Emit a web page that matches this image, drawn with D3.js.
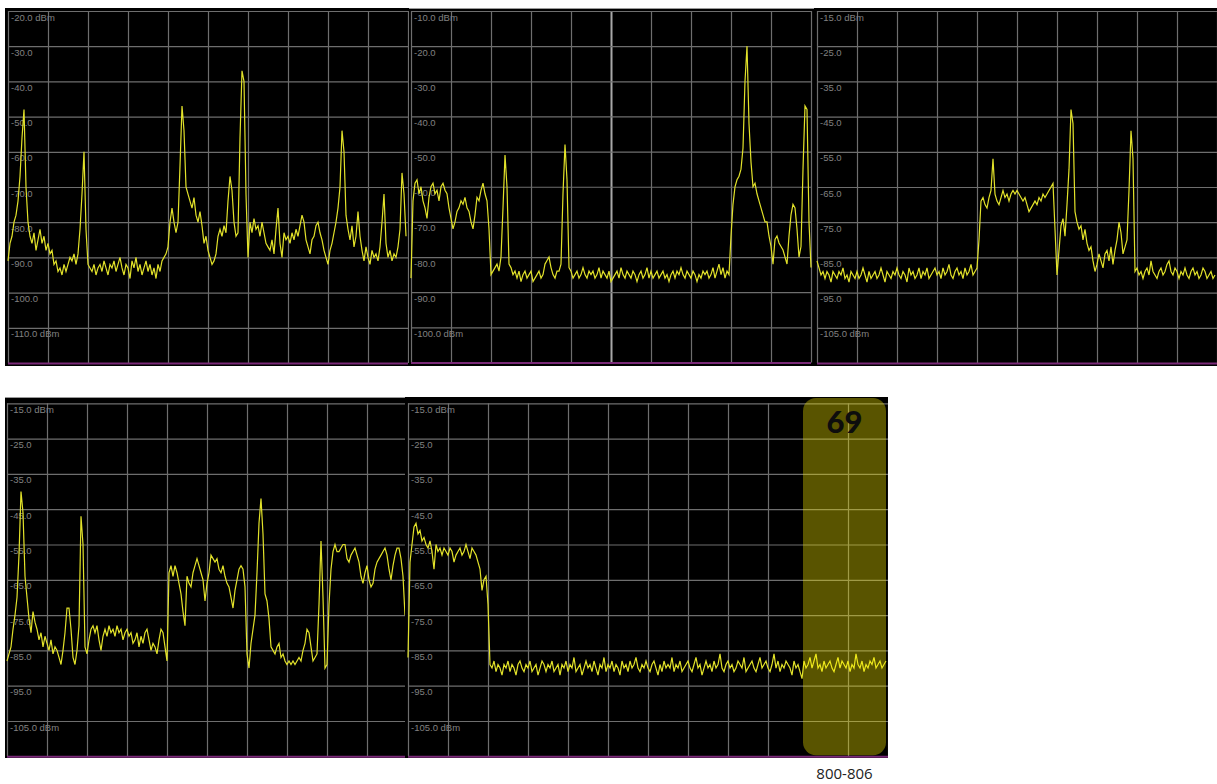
<!DOCTYPE html>
<html>
<head>
<meta charset="utf-8">
<script src="https://cdn.jsdelivr.net/npm/d3@7"></script>
<style>
    body { margin: 0; background: #fff; }
    .grid line { stroke: #6e6e6e; stroke-width: 1.2; }
    .grid path { display: none; }
    .grid text { fill: #808080; font-family: "Liberation Sans Narrow", "Liberation Sans", sans-serif; font-size: 9.5px; }
    .trace { fill: none; stroke: #e2e22a; stroke-width: 1.2; }
</style>
</head>
<body>
<svg></svg>
<script>
// reference level (top line) of each screen, dBm, 10 dB per division
var topLevels = [-20, -10, -15, -15, -15];

// traces, dBm, one sample every 2 px
var p1Trace = [
    -91, -86, -84, -80, -78, -74, -67, -56, -48, -70,
    -80, -84, -86, -83, -88, -85, -82, -86, -84, -88,
    -86, -89, -88, -92, -91, -94, -93, -95, -92, -94,
    -92, -90, -91, -89, -92, -89, -82, -72, -60, -82,
    -92, -93, -94, -92, -95, -93, -92, -94, -91, -93,
    -95, -92, -93, -91, -94, -92, -90, -93, -95, -92,
    -93, -96, -91, -93, -90, -94, -92, -95, -93, -91,
    -94, -92, -95, -93, -96, -92, -94, -91, -90, -89,
    -87, -80, -76, -80, -83, -80, -64, -47, -54, -70,
    -72, -74, -76, -73, -78, -80, -77, -81, -86, -84,
    -88, -90, -92, -91, -89, -84, -82, -84, -81, -83,
    -74, -67, -71, -80, -84, -83, -56, -37, -40, -72,
    -90, -80, -83, -79, -82, -81, -84, -80, -83, -86,
    -87, -88, -85, -89, -82, -76, -86, -90, -83, -85,
    -84, -86, -83, -85, -82, -84, -81, -78, -80, -85,
    -87, -89, -85, -84, -81, -80, -83, -85, -88, -90,
    -92, -88, -86, -83, -80, -76, -70, -54, -60, -78,
    -82, -85, -81, -87, -84, -77, -84, -88, -91, -87,
    -90, -92, -88, -90, -89, -91, -87, -80, -72, -86,
    -90, -88, -91, -89, -90, -87, -82, -66, -72, -84
];

var p2Trace = [
    -86, -64, -59, -58, -62, -60, -64, -66, -69, -63,
    -60, -59, -62, -61, -64, -60, -59, -61, -62, -66,
    -69, -72, -70, -67, -66, -64, -65, -63, -66, -67,
    -70, -72, -68, -63, -64, -61, -59, -62, -64, -72,
    -85, -84, -83, -82, -84, -80, -66, -51, -60, -82,
    -83, -85, -84, -86, -84, -87, -85, -84, -86, -85,
    -84, -87, -86, -85, -84, -86, -85, -82, -81, -80,
    -83, -85, -86, -84, -84, -82, -62, -48, -58, -83,
    -84, -86, -85, -84, -86, -85, -83, -85, -86, -84,
    -85, -84, -86, -85, -83, -86, -84, -85, -86, -84,
    -87, -86, -85, -84, -86, -83, -85, -86, -84, -85,
    -86, -84, -85, -87, -85, -84, -86, -85, -83, -86,
    -84, -86, -85, -84, -86, -85, -84, -86, -85, -87,
    -85, -84, -86, -84, -85, -83, -85, -86, -84, -85,
    -86, -84, -85, -87, -85, -86, -84, -85, -84, -86,
    -85, -83, -86, -84, -82, -85, -83, -86, -84, -85,
    -74, -65, -60, -58, -57, -55, -49, -30, -20, -42,
    -53, -60, -59, -62, -64, -66, -68, -70, -70, -74,
    -77, -82, -75, -74, -76, -77, -78, -80, -82, -74,
    -68, -65, -66, -72, -80, -77, -55, -37, -38, -70,
    -83
];

var p3Trace = [
    -86, -88, -90, -89, -91, -89, -90, -92, -89, -90,
    -91, -89, -90, -88, -91, -90, -92, -89, -90, -91,
    -89, -91, -90, -88, -90, -92, -89, -91, -90, -89,
    -91, -90, -88, -90, -92, -89, -90, -91, -89, -90,
    -88, -90, -91, -89, -90, -92, -88, -90, -89, -91,
    -90, -88, -91, -89, -90, -88, -91, -90, -89, -88,
    -90, -89, -91, -88, -90, -89, -87, -90, -91, -89,
    -88, -90, -89, -91, -88, -90, -89, -87, -90, -89,
    -88, -80, -69, -68, -70, -71, -68, -66, -57, -67,
    -69, -70, -68, -66, -68, -67, -69, -67, -66, -67,
    -66, -67, -68, -69, -68, -70, -72, -71, -70, -69,
    -70, -68, -69, -67, -68, -67, -66, -65, -64, -77,
    -90, -83, -76, -74, -79, -70, -60, -43, -47, -72,
    -75, -77, -76, -80, -77, -81, -83, -82, -86, -89,
    -87, -84, -86, -88, -84, -83, -86, -82, -87, -83,
    -80, -75, -78, -84, -82, -80, -66, -49, -57, -89,
    -88, -90, -89, -91, -89, -88, -90, -86, -89, -90,
    -91, -89, -88, -90, -89, -87, -86, -89, -90, -88,
    -89, -91, -89, -90, -88, -90, -91, -89, -88, -90,
    -89, -91, -90, -88, -89, -91, -90, -89, -91, -90
];

var p4Trace = [
    -88, -86, -84, -79, -75, -70, -58, -40, -46, -64,
    -70, -76, -80, -74, -77, -79, -82, -80, -84, -81,
    -83, -85, -82, -86, -84, -85, -87, -89, -85, -80,
    -73, -73, -79, -87, -89, -85, -78, -47, -55, -84,
    -86, -82, -79, -78, -80, -78, -82, -85, -81, -79,
    -81, -78, -80, -79, -81, -78, -80, -79, -82, -80,
    -79, -81, -80, -83, -82, -80, -84, -81, -83, -80,
    -79, -82, -85, -83, -84, -86, -82, -79, -80, -84,
    -88, -63, -61, -64, -61, -63, -66, -69, -74, -78,
    -64, -66, -67, -63, -61, -59, -61, -63, -65, -71,
    -66, -63, -58, -59, -60, -59, -62, -63, -61, -64,
    -66, -67, -70, -73, -68, -65, -62, -61, -62, -67,
    -86, -90, -83, -79, -75, -63, -49, -42, -52, -69,
    -71, -76, -84, -85, -86, -84, -83, -87, -86, -88,
    -89, -88, -89, -88, -89, -88, -87, -88, -85, -83,
    -79, -80, -84, -88, -87, -86, -72, -54, -70, -90,
    -89, -72, -62, -57, -55, -57, -57, -56, -55, -55,
    -59, -60, -58, -57, -56, -58, -60, -64, -66, -63,
    -61, -65, -67, -66, -62, -60, -59, -58, -57, -56,
    -58, -62, -65, -61, -58, -56, -56, -59, -64, -75
];

var p5Trace = [
    -87, -60, -55, -50, -49, -52, -51, -54, -53, -55,
    -56, -54, -57, -62, -55, -57, -56, -58, -56, -57,
    -58, -56, -57, -60, -58, -57, -56, -58, -57, -55,
    -57, -59, -56, -57, -58, -60, -62, -68, -65, -64,
    -72, -89, -90, -88, -91, -89, -90, -92, -89, -90,
    -88, -91, -89, -90, -92, -89, -88, -90, -91, -89,
    -90, -88, -91, -90, -89, -92, -90, -88, -89, -91,
    -89, -90, -88, -91, -90, -89, -92, -89, -90, -88,
    -91, -89, -90, -87, -91, -90, -89, -92, -90, -88,
    -90, -89, -91, -88, -90, -92, -89, -90, -87, -91,
    -89, -90, -88, -91, -89, -90, -92, -88, -90, -89,
    -91, -88, -90, -89, -87, -90, -91, -89, -90, -88,
    -90, -91, -89, -88, -90, -92, -89, -91, -88, -90,
    -89, -90, -87, -91, -89, -90, -88, -91, -90, -89,
    -88, -90, -91, -89, -87, -90, -89, -92, -90, -88,
    -90, -89, -91, -88, -90, -89, -86, -90, -91, -89,
    -88, -90, -89, -91, -90, -88, -89, -90, -87, -91,
    -90, -89, -88, -90, -91, -89, -87, -90, -89, -88,
    -90, -91, -89, -86, -90, -88, -91, -89, -90, -88,
    -89, -90, -92, -88, -90, -89, -91, -93, -88, -90,
    -89, -87, -90, -88, -86, -90, -89, -91, -88, -90,
    -89, -88, -90, -91, -89, -87, -90, -88, -89, -90,
    -88, -91, -89, -90, -86, -89, -90, -88, -91, -89,
    -90, -88, -89, -87, -90, -89, -88, -90, -89, -88
];

// channel marker on the last screen
var channelLabel = '69';
var channelRange = '800-806';

var traces = [p1Trace, p2Trace, p3Trace, p4Trace, p5Trace];

// screen layout (pixels)
var screens = [
    {box: [5, 8, 404, 358],   gx: 8,   gy: [11, 363],      ndiv: 10, tx: [8, 406]},
    {box: [409, 8, 405, 358], gx: 411, gy: [11, 362.5],    ndiv: 10, tx: [411, 811], center: 5, topEdge: true},
    {box: [814, 8, 403, 358], gx: 817, gy: [11, 363],      ndiv: 10, tx: [817, 1215]},
    {box: [5, 397, 401, 361], gx: 7,   gy: [403.3, 756.3], ndiv: 10, tx: [7, 405], topEdge: true},
    {box: [405, 397, 483, 361], gx: 408, gy: [403.3, 756.3], ndiv: 12, tx: [408, 886], skip: 10}
];

var svg = d3.select('svg')
    .attr('width', 1217)
    .attr('height', 784);

var fmt = function (v) { return v.toFixed(1); };

screens.forEach(function (s, k) {
    var top = topLevels[k],
        data = traces[k],
        b = s.box,
        gw = s.ndiv * 40;

    var g = svg.append('g');

    var clipId = 'clip' + k;
    g.append('clipPath').attr('id', clipId)
      .append('rect')
        .attr('x', b[0]).attr('y', b[1]).attr('width', b[2]).attr('height', b[3]);

    g.append('rect')
        .attr('x', b[0]).attr('y', b[1])
        .attr('width', b[2]).attr('height', b[3])
        .attr('fill', '#000');

    if (s.topEdge) {
        g.append('line')
            .attr('x1', b[0]).attr('x2', b[0] + b[2])
            .attr('y1', b[1] + 0.5).attr('y2', b[1] + 0.5)
            .attr('stroke', '#9a9a9a');
    }

    var inner = g.append('g').attr('clip-path', 'url(#' + clipId + ')');

    // scales
    var y = d3.scaleLinear().domain([top, top - 100]).range(s.gy);
    var xg = d3.scaleLinear().domain([0, s.ndiv]).range([s.gx, s.gx + gw]);
    var x = d3.scaleLinear().domain([0, data.length - 1]).range(s.tx);

    // vertical graticule
    var vt = d3.range(0, s.ndiv + 1).filter(function (d) { return d !== s.skip; });
    var vg = inner.append('g')
        .attr('class', 'grid')
        .attr('transform', 'translate(0,' + s.gy[0] + ')')
        .call(d3.axisTop(xg).tickValues(vt).tickSize(-(s.gy[1] - s.gy[0])).tickFormat(''));
    if (s.center !== undefined) {
        vg.selectAll('.tick').filter(function (d) { return d === s.center; })
            .select('line').style('stroke', '#a8a8a8').style('stroke-width', 2);
    }

    // horizontal graticule with level labels
    var levels = d3.range(0, 11).map(function (i) { return top - 10 * i; });
    var hg = inner.append('g')
        .attr('class', 'grid')
        .attr('transform', 'translate(' + s.gx + ',0)')
        .call(d3.axisLeft(y).tickValues(levels).tickSize(-gw)
            .tickFormat(function (v, i) {
                if (i === 0 || i === 9) return fmt(v) + ' dBm';
                if (i === 10) return '';
                return fmt(v);
            }));
    hg.selectAll('text')
        .attr('x', 3)
        .attr('dy', '0.95em')
        .style('text-anchor', 'start');
    hg.selectAll('.tick').filter(function (d, i) { return i === 10; })
        .select('line').style('stroke', '#7a2a78').style('stroke-width', 2);

    // trace
    inner.append('path')
        .datum(data)
        .attr('class', 'trace')
        .attr('d', d3.line()
            .x(function (d, i) { return x(i); })
            .y(function (d) { return y(d); }));

    // channel highlight on the last screen
    if (k === 4) {
        var hx = xg(9.875), hw = xg(11.95) - hx;
        g.append('rect')
            .attr('x', hx).attr('y', b[1] + 1)
            .attr('width', hw).attr('height', s.gy[1] - b[1] - 2)
            .attr('rx', 13)
            .attr('fill', 'rgba(255, 240, 0, 0.35)');
        g.append('text')
            .attr('x', hx + hw / 2).attr('y', b[1] + 36)
            .attr('text-anchor', 'middle')
            .style('font-family', 'Lato, "DejaVu Sans", sans-serif')
            .style('font-weight', 900)
            .style('font-size', '31px')
            .style('fill', '#0d0d0d')
            .text(channelLabel);
        svg.append('text')
            .attr('x', hx + hw / 2).attr('y', 779)
            .attr('text-anchor', 'middle')
            .style('font-family', '"Open Sans", "Liberation Sans", sans-serif')
            .style('font-size', '15px')
            .style('fill', '#222')
            .text(channelRange);
    }
});
</script>
</body>
</html>
